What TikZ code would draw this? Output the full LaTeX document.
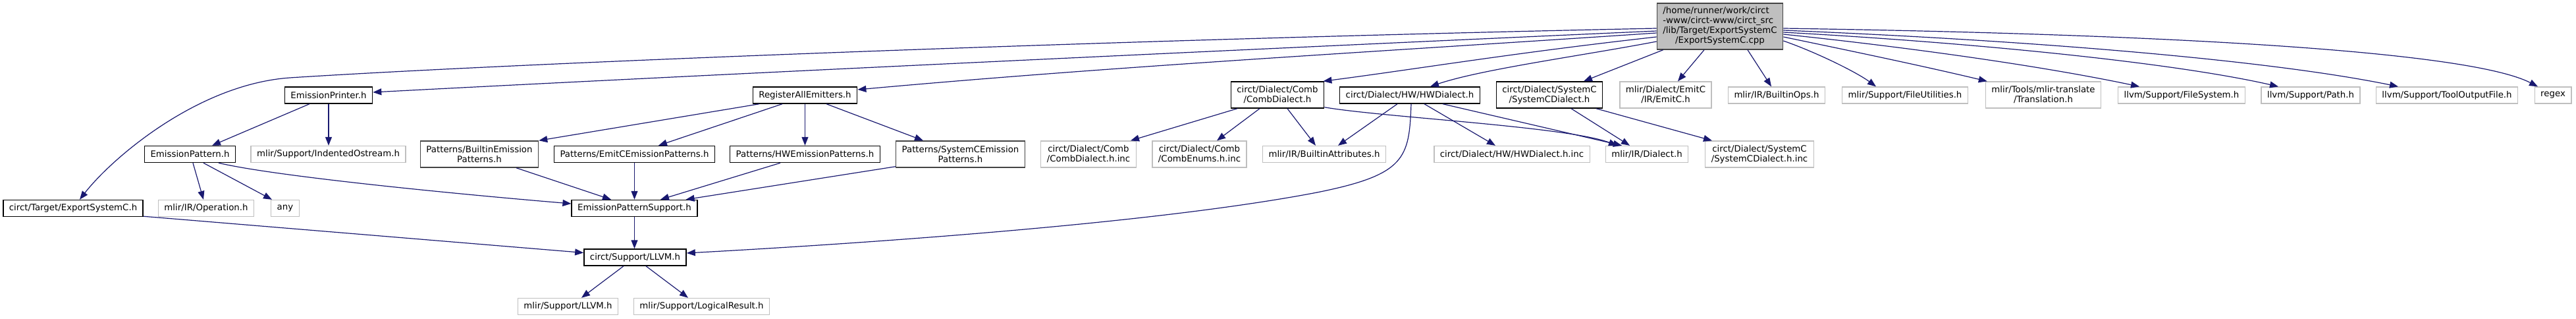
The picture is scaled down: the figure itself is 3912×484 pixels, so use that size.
\documentclass[tikz,border=0pt]{standalone}
\usepackage{fontspec}
\setmainfont{DejaVu Sans}
\usetikzlibrary{arrows.meta,calc}
\definecolor{edgeblue}{HTML}{191970}
\definecolor{grayline}{HTML}{BFBFBF}
\definecolor{darkline}{HTML}{444444}
\definecolor{mainfill}{HTML}{BFBFBF}
\begin{document}
\begin{tikzpicture}[x=0.75pt,y=-0.75pt,
  base/.style={rectangle, inner xsep=6.75pt, inner ysep=0pt, font=\fontsize{10}{11.25}\selectfont, text=black, fill=white, align=center},
  docnode/.style={base, draw=black, line width=1.1pt},
  extnode/.style={base, draw=grayline, line width=1pt},
  semnode/.style={base, draw=darkline, line width=1.1pt},
  mainnode/.style={base, draw=darkline, fill=mainfill, line width=1.1pt},
  one/.style={minimum height=18.75pt},
  two/.style={minimum height=30pt},
  dep/.style={draw=edgeblue, line width=0.9pt, -{Triangle[length=9.75pt,width=7.5pt]}},
]
\useasboundingbox (0,0) rectangle (3912,484);

% row 0
\node[mainnode, minimum height=52.5pt] (M) at (2612,40) {\begin{tabular}{@{}l@{}}/home/runner/work/circt\\-www/circt-www/circt\_src\\/lib/Target/ExportSystemC\\\multicolumn{1}{@{}c@{}}{/ExportSystemC.cpp}\end{tabular}};

% row 1
\node[docnode,one] (EP) at (499,144.5) {EmissionPrinter.h};
\node[docnode,one] (RA) at (1222.5,144.5) {RegisterAllEmitters.h};
\node[docnode,two] (CD) at (1940,144) {circt/Dialect/Comb\\/CombDialect.h};
\node[docnode,one] (HW) at (2141,144.5) {circt/Dialect/HW/HWDialect.h};
\node[docnode,two] (SC) at (2353,144) {circt/Dialect/SystemC\\/SystemCDialect.h};
\node[extnode,two] (EC) at (2529.5,144) {mlir/Dialect/EmitC\\/IR/EmitC.h};
\node[extnode,one] (BO) at (2698,144.5) {mlir/IR/BuiltinOps.h};
\node[extnode,one] (FU) at (2893,144.5) {mlir/Support/FileUtilities.h};
\node[extnode,two] (TR) at (3103,144) {mlir/Tools/mlir-translate\\/Translation.h};
\node[extnode,one] (FS) at (3313,144.5) {llvm/Support/FileSystem.h};
\node[extnode,one] (PA) at (3509,144.5) {llvm/Support/Path.h};
\node[extnode,one] (TO) at (3716,144.5) {llvm/Support/ToolOutputFile.h};
\node[extnode,one] (RX) at (3877,144.5) {regex};

% row 2
\node[docnode,one] (EPat) at (288.5,234) {EmissionPattern.h};
\node[extnode,one] (IO) at (498.5,234) {mlir/Support/IndentedOstream.h};
\node[semnode,two] (BEP) at (728,234) {Patterns/BuiltinEmission\\Patterns.h};
\node[docnode,one] (ECP) at (963.5,234) {Patterns/EmitCEmissionPatterns.h};
\node[docnode,one] (HWP) at (1222.5,234) {Patterns/HWEmissionPatterns.h};
\node[semnode,two] (SCP) at (1458.5,234) {Patterns/SystemCEmission\\Patterns.h};
\node[extnode,two] (CDI) at (1653,234) {circt/Dialect/Comb\\/CombDialect.h.inc};
\node[extnode,two] (CEI) at (1821.5,234) {circt/Dialect/Comb\\/CombEnums.h.inc};
\node[extnode,one] (BA) at (2011,234) {mlir/IR/BuiltinAttributes.h};
\node[extnode,one] (HWI) at (2296,234) {circt/Dialect/HW/HWDialect.h.inc};
\node[extnode,one] (DI) at (2501,234) {mlir/IR/Dialect.h};
\node[extnode,two] (SCI) at (2672,234) {circt/Dialect/SystemC\\/SystemCDialect.h.inc};

% row 3
\node[docnode,one] (ESC) at (111,316) {circt/Target/ExportSystemC.h};
\node[extnode,one] (OP) at (313,316) {mlir/IR/Operation.h};
\node[extnode,one] (ANY) at (433,316) {any};
\node[docnode,one] (EPS) at (963.5,316) {EmissionPatternSupport.h};

% row 4
\node[docnode,one] (CSL) at (964.5,390.5) {circt/Support/LLVM.h};

% row 5
\node[extnode,one] (MSL) at (862.5,465) {mlir/Support/LLVM.h};
\node[extnode,one] (LR) at (1065.5,465) {mlir/Support/LogicalResult.h};

% edges from main node
\draw[dep] ($(M.west)+(0,3)$) .. controls (1700,60) and (800,95) .. (440,118) .. controls (300,128) and (170,240) .. ($(ESC.north)+(10,0)$);
\draw[dep] ($(M.west)+(0,7)$) .. controls (2000,70) and (1100,112) .. ($(EP.east)+(0,-4.5)$);
\draw[dep] ($(M.west)+(0,10)$) .. controls (2100,78) and (1700,100) .. ($(RA.east)+(0,-8.5)$);
\draw[dep] ($(M.west)+(0,16)$) .. controls (2300,80) and (2150,105) .. ($(CD.north east)+(-2,0)$);
\draw[dep] ($(M.west)+(0,23)$) .. controls (2400,85) and (2250,105) .. ($(HW.north)+(31,0)$);
\draw[dep] ($(M.south west)+(10,0)$) -- ($(SC.north)+(52,0)$);
\draw[dep] ($(M.south)+(-24,0)$) -- ($(EC.north)+(18.5,0)$);
\draw[dep] ($(M.south)+(42,0)$) -- ($(BO.north)+(-8,0)$);
\draw[dep] ($(M.east)+(0,22)$) .. controls (2760,80) and (2820,110) .. ($(FU.north)+(-44,0)$);
\draw[dep] ($(M.east)+(0,16)$) .. controls (2800,75) and (2920,100) .. ($(TR.north west)+(3,0)$);
\draw[dep] ($(M.east)+(0,12)$) .. controls (2900,72) and (3100,100) .. ($(FS.north)+(-64,0)$);
\draw[dep] ($(M.east)+(0,9)$) .. controls (3000,65) and (3300,95) .. ($(PA.north)+(-49,0)$);
\draw[dep] ($(M.east)+(0,6)$) .. controls (3100,62) and (3450,92) .. ($(TO.north)+(-74,0)$);
\draw[dep] ($(M.east)+(0,3)$) .. controls (3300,52) and (3750,78) .. ($(RX.north)+(-23,0)$);

% other edges
\draw[dep] ($(EP.south)+(-29,0)$) -- ($(EPat.north)+(33.5,0)$);
\draw[dep] (EP.south) -- (EP.south |- IO.north);
\draw[dep] ($(EPat.south)+(4.5,0)$) -- ($(OP.north)+(-4,0)$);
\draw[dep] ($(EPat.south)+(20.5,0)$) -- ($(ANY.north)+(-20,0)$);
\draw[dep] ($(EPat.south)+(43.5,0)$) .. controls (420,268) and (700,295) .. ($(EPS.west)+(0,-7)$);
\draw[dep] ($(ESC.south east)+(0,-1)$) -- ($(CSL.west)+(0,-7)$);
\draw[dep] ($(BEP.south)+(56,0)$) -- ($(EPS.north)+(-35.5,0)$);
\draw[dep] (ECP.south) -- (ECP.south |- EPS.north);
\draw[dep] ($(HWP.south)+(-37.5,0)$) -- ($(EPS.north)+(39.5,0)$);
\draw[dep] ($(SCP.south west)+(0,-2)$) -- ($(EPS.north east)+(-18,0)$);
\draw[dep] (EPS.south) -- (EPS.south |- CSL.north);
\draw[dep] ($(CSL.south)+(-17.5,0)$) -- ($(MSL.north)+(20.5,0)$);
\draw[dep] ($(CSL.south)+(16.5,0)$) -- ($(LR.north)+(-20.5,0)$);
\draw[dep] ($(RA.south)+(-69.5,0)$) -- (BEP.north east);
\draw[dep] ($(RA.south)+(-34.5,0)$) -- ($(ECP.north)+(36.5,0)$);
\draw[dep] (RA.south) -- (RA.south |- HWP.north);
\draw[dep] ($(RA.south)+(32.5,0)$) -- ($(SCP.north)+(-56.5,0)$);
\draw[dep] ($(CD.south)+(-61,0)$) -- ($(CDI.north)+(64,0)$);
\draw[dep] ($(CD.south)+(-27,0)$) -- ($(CEI.north)+(26.5,0)$);
\draw[dep] ($(CD.south)+(15,0)$) -- ($(BA.north)+(-13,0)$);
\draw[dep] ($(CD.south east)+(0,-2)$) .. controls (2100,178) and (2380,192) .. ($(DI.north)+(-45,0)$);
\draw[dep] ($(HW.south)+(-19,0)$) -- ($(BA.north)+(21,0)$);
\draw[dep] ($(HW.south)+(2,0)$) .. controls (2140,240) and (2135,265) .. (2000,292) .. controls (1750,340) and (1300,370) .. ($(CSL.east)+(0,-6.5)$);
\draw[dep] ($(HW.south)+(22,0)$) -- ($(HWI.north)+(-25,0)$);
\draw[dep] ($(HW.south)+(50,0)$) -- ($(DI.north)+(-38,0)$);
\draw[dep] ($(SC.south)+(33,0)$) -- ($(DI.north)+(-26,0)$);
\draw[dep] ($(SC.south)+(71,0)$) -- ($(SCI.north)+(-72,0)$);
\end{tikzpicture}
\end{document}
